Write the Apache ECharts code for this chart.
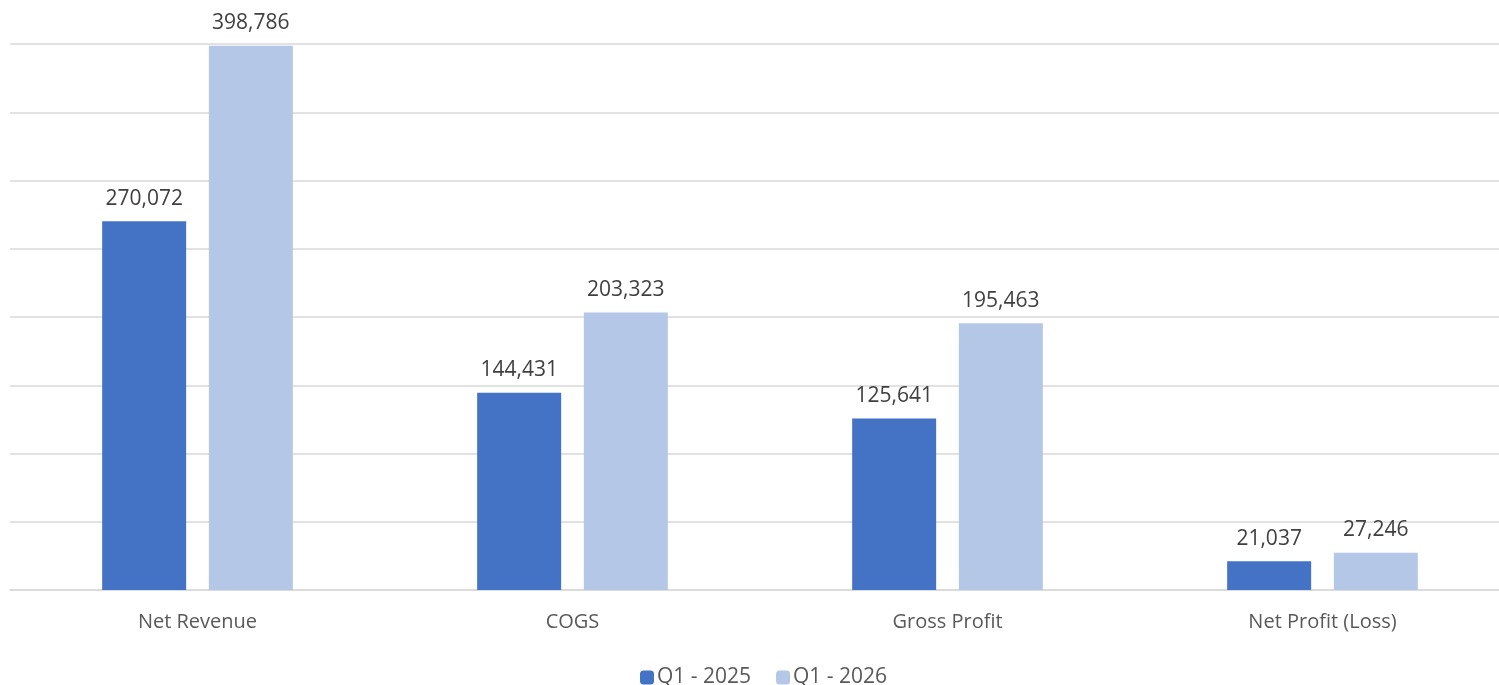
<!DOCTYPE html>
<html><head><meta charset="utf-8">
<script src="https://cdn.jsdelivr.net/npm/echarts@6/dist/echarts.min.js"></script>
<style>html,body{margin:0;padding:0;background:#fff}#c{width:1499px;height:685px}</style>
</head><body><div id="c"></div>
<script>
const categories = ['Net Revenue', 'COGS', 'Gross Profit', 'Net Profit (Loss)'];
const seriesNames = ['Q1 - 2025', 'Q1 - 2026'];
const q1_2025 = [270072, 144431, 125641, 21037];
const q1_2026 = [398786, 203323, 195463, 27246];

const font = '"Open Sans", "Noto Sans", sans-serif';
const chart = echarts.init(document.getElementById('c'));
const lbl = {
  show: true, position: 'top', distance: 12, color: '#404040', fontSize: 21, fontFamily: font,
  formatter: p => p.value.toLocaleString('en-US')
};
chart.setOption({
  animation: false,
  textStyle: { fontFamily: font },
  grid: { left: 10, width: 1500, top: 44, bottom: 95, containLabel: false, outerBoundsMode: 'none' },
  legend: {
    top: 662, left: 635, itemWidth: 14, itemHeight: 14, itemGap: 25,
    textStyle: { color: '#595959', fontSize: 21, fontFamily: font, padding: [0, 0, 0, -2] },
    data: seriesNames
  },
  xAxis: {
    type: 'category', data: categories,
    axisLine: { lineStyle: { color: '#d9d9d9', width: 1.5 } },
    axisTick: { show: false },
    axisLabel: { color: '#595959', fontSize: 20, margin: 22, fontFamily: font }
  },
  yAxis: {
    type: 'value', min: 0, max: 400000, interval: 50000,
    axisLabel: { show: false }, axisLine: { show: false }, axisTick: { show: false },
    splitLine: { lineStyle: { color: '#d9d9d9', width: 1.5 } }
  },
  series: [
    { name: seriesNames[0], type: 'bar', data: q1_2025, barWidth: 84, barGap: '27%',
      itemStyle: { color: '#4472C4' }, label: lbl },
    { name: seriesNames[1], type: 'bar', data: q1_2026, barWidth: 84,
      itemStyle: { color: '#B4C7E7' }, label: lbl }
  ]
});
</script></body></html>
